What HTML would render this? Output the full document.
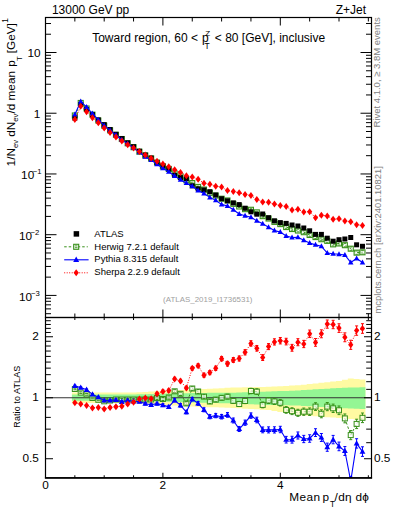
<!DOCTYPE html><html><head><meta charset="utf-8"><style>html,body{margin:0;padding:0;background:#fff;}svg{display:block;}text{font-family:"Liberation Sans",sans-serif;}</style></head><body>
<svg width="393" height="512" viewBox="0 0 393 512">
<rect x="0" y="0" width="393" height="512" fill="#fff"/>
<defs><clipPath id="cm"><rect x="45.5" y="17.5" width="326" height="300"/></clipPath><clipPath id="cr"><rect x="45.5" y="317.5" width="326" height="160.25"/></clipPath></defs>
<g clip-path="url(#cm)">
<polyline fill="none" stroke="#38901a" stroke-width="1" stroke-dasharray="2.5,2" points="74.85,115.48 80.72,102.96 86.59,108.5 92.46,114.67 98.33,120.51 104.2,125.66 110.07,130.32 115.94,134.82 121.81,139.02 127.68,143.32 133.55,147.22 139.42,151.72 145.29,155.52 151.16,158.52 157.03,162.57 162.9,166.37 168.77,168.93 174.64,173.37 180.51,176.42 186.38,180.29 192.25,183.03 198.12,186.93 203.99,189.56 209.86,192.82 215.73,195.55 221.6,198.71 227.47,200.46 233.34,203.84 239.21,206.47 245.08,209.17 250.95,209.78 256.82,212.36 262.69,216.14 268.56,218.52 274.43,221.89 280.3,224.11 286.17,227.04 292.04,229.03 297.91,230.51 303.78,232.18 309.65,234.98 315.52,237.05 321.39,239.21 327.26,240.85 333.13,244.36 339,243.46 344.87,245.19 350.74,248.7 356.61,252.64 362.48,252.31"/>
<rect x="72.35" y="112.98" width="5" height="5" fill="none" stroke="#38901a" stroke-width="1.1"/>
<rect x="78.22" y="100.46" width="5" height="5" fill="none" stroke="#38901a" stroke-width="1.1"/>
<rect x="84.09" y="106" width="5" height="5" fill="none" stroke="#38901a" stroke-width="1.1"/>
<rect x="89.96" y="112.17" width="5" height="5" fill="none" stroke="#38901a" stroke-width="1.1"/>
<rect x="95.83" y="118.01" width="5" height="5" fill="none" stroke="#38901a" stroke-width="1.1"/>
<rect x="101.7" y="123.16" width="5" height="5" fill="none" stroke="#38901a" stroke-width="1.1"/>
<rect x="107.57" y="127.82" width="5" height="5" fill="none" stroke="#38901a" stroke-width="1.1"/>
<rect x="113.44" y="132.32" width="5" height="5" fill="none" stroke="#38901a" stroke-width="1.1"/>
<rect x="119.31" y="136.52" width="5" height="5" fill="none" stroke="#38901a" stroke-width="1.1"/>
<rect x="125.18" y="140.82" width="5" height="5" fill="none" stroke="#38901a" stroke-width="1.1"/>
<rect x="131.05" y="144.72" width="5" height="5" fill="none" stroke="#38901a" stroke-width="1.1"/>
<rect x="136.92" y="149.22" width="5" height="5" fill="none" stroke="#38901a" stroke-width="1.1"/>
<rect x="142.79" y="153.02" width="5" height="5" fill="none" stroke="#38901a" stroke-width="1.1"/>
<rect x="148.66" y="156.02" width="5" height="5" fill="none" stroke="#38901a" stroke-width="1.1"/>
<rect x="154.53" y="160.07" width="5" height="5" fill="none" stroke="#38901a" stroke-width="1.1"/>
<rect x="160.4" y="163.87" width="5" height="5" fill="none" stroke="#38901a" stroke-width="1.1"/>
<rect x="166.27" y="166.43" width="5" height="5" fill="none" stroke="#38901a" stroke-width="1.1"/>
<rect x="172.14" y="170.87" width="5" height="5" fill="none" stroke="#38901a" stroke-width="1.1"/>
<rect x="178.01" y="173.92" width="5" height="5" fill="none" stroke="#38901a" stroke-width="1.1"/>
<rect x="183.88" y="177.79" width="5" height="5" fill="none" stroke="#38901a" stroke-width="1.1"/>
<rect x="189.75" y="180.53" width="5" height="5" fill="none" stroke="#38901a" stroke-width="1.1"/>
<rect x="195.62" y="184.43" width="5" height="5" fill="none" stroke="#38901a" stroke-width="1.1"/>
<rect x="201.49" y="187.06" width="5" height="5" fill="none" stroke="#38901a" stroke-width="1.1"/>
<rect x="207.36" y="190.32" width="5" height="5" fill="none" stroke="#38901a" stroke-width="1.1"/>
<rect x="213.23" y="193.05" width="5" height="5" fill="none" stroke="#38901a" stroke-width="1.1"/>
<rect x="219.1" y="196.21" width="5" height="5" fill="none" stroke="#38901a" stroke-width="1.1"/>
<rect x="224.97" y="197.96" width="5" height="5" fill="none" stroke="#38901a" stroke-width="1.1"/>
<rect x="230.84" y="201.34" width="5" height="5" fill="none" stroke="#38901a" stroke-width="1.1"/>
<rect x="236.71" y="203.97" width="5" height="5" fill="none" stroke="#38901a" stroke-width="1.1"/>
<rect x="242.58" y="206.67" width="5" height="5" fill="none" stroke="#38901a" stroke-width="1.1"/>
<rect x="248.45" y="207.28" width="5" height="5" fill="none" stroke="#38901a" stroke-width="1.1"/>
<rect x="254.32" y="209.86" width="5" height="5" fill="none" stroke="#38901a" stroke-width="1.1"/>
<rect x="260.19" y="213.64" width="5" height="5" fill="none" stroke="#38901a" stroke-width="1.1"/>
<rect x="266.06" y="216.02" width="5" height="5" fill="none" stroke="#38901a" stroke-width="1.1"/>
<rect x="271.93" y="219.39" width="5" height="5" fill="none" stroke="#38901a" stroke-width="1.1"/>
<rect x="277.8" y="221.61" width="5" height="5" fill="none" stroke="#38901a" stroke-width="1.1"/>
<rect x="283.67" y="224.54" width="5" height="5" fill="none" stroke="#38901a" stroke-width="1.1"/>
<rect x="289.54" y="226.53" width="5" height="5" fill="none" stroke="#38901a" stroke-width="1.1"/>
<rect x="295.41" y="228.01" width="5" height="5" fill="none" stroke="#38901a" stroke-width="1.1"/>
<rect x="301.28" y="229.68" width="5" height="5" fill="none" stroke="#38901a" stroke-width="1.1"/>
<rect x="307.15" y="232.48" width="5" height="5" fill="none" stroke="#38901a" stroke-width="1.1"/>
<rect x="313.02" y="234.55" width="5" height="5" fill="none" stroke="#38901a" stroke-width="1.1"/>
<rect x="318.89" y="236.71" width="5" height="5" fill="none" stroke="#38901a" stroke-width="1.1"/>
<rect x="324.76" y="238.35" width="5" height="5" fill="none" stroke="#38901a" stroke-width="1.1"/>
<rect x="330.63" y="241.86" width="5" height="5" fill="none" stroke="#38901a" stroke-width="1.1"/>
<rect x="336.5" y="240.96" width="5" height="5" fill="none" stroke="#38901a" stroke-width="1.1"/>
<rect x="342.37" y="242.69" width="5" height="5" fill="none" stroke="#38901a" stroke-width="1.1"/>
<rect x="348.24" y="246.2" width="5" height="5" fill="none" stroke="#38901a" stroke-width="1.1"/>
<rect x="354.11" y="250.14" width="5" height="5" fill="none" stroke="#38901a" stroke-width="1.1"/>
<rect x="359.98" y="249.81" width="5" height="5" fill="none" stroke="#38901a" stroke-width="1.1"/>
<path d="M73.55 114.98H76.15 M73.55 115.98H76.15" stroke="#38901a" stroke-width="0.9" fill="none"/>
<path d="M79.42 102.45H82.02 M79.42 103.46H82.02" stroke="#38901a" stroke-width="0.9" fill="none"/>
<path d="M85.29 107.99H87.89 M85.29 109.01H87.89" stroke="#38901a" stroke-width="0.9" fill="none"/>
<path d="M91.16 114.16H93.76 M91.16 115.19H93.76" stroke="#38901a" stroke-width="0.9" fill="none"/>
<path d="M97.03 119.99H99.63 M97.03 121.04H99.63" stroke="#38901a" stroke-width="0.9" fill="none"/>
<path d="M102.9 125.13H105.5 M102.9 126.2H105.5" stroke="#38901a" stroke-width="0.9" fill="none"/>
<path d="M108.77 129.77H111.37 M108.77 130.88H111.37" stroke="#38901a" stroke-width="0.9" fill="none"/>
<path d="M114.64 134.26H117.24 M114.64 135.39H117.24" stroke="#38901a" stroke-width="0.9" fill="none"/>
<path d="M120.51 138.45H123.11 M120.51 139.6H123.11" stroke="#38901a" stroke-width="0.9" fill="none"/>
<path d="M126.38 142.73H128.98 M126.38 143.92H128.98" stroke="#38901a" stroke-width="0.9" fill="none"/>
<path d="M132.25 146.61H134.85 M132.25 147.84H134.85" stroke="#38901a" stroke-width="0.9" fill="none"/>
<path d="M138.12 151.1H140.72 M138.12 152.35H140.72" stroke="#38901a" stroke-width="0.9" fill="none"/>
<path d="M143.99 154.88H146.59 M143.99 156.17H146.59" stroke="#38901a" stroke-width="0.9" fill="none"/>
<path d="M149.86 157.86H152.46 M149.86 159.19H152.46" stroke="#38901a" stroke-width="0.9" fill="none"/>
<path d="M155.73 161.89H158.33 M155.73 163.26H158.33" stroke="#38901a" stroke-width="0.9" fill="none"/>
<path d="M161.6 165.67H164.2 M161.6 167.08H164.2" stroke="#38901a" stroke-width="0.9" fill="none"/>
<path d="M167.47 168.2H170.07 M167.47 169.65H170.07" stroke="#38901a" stroke-width="0.9" fill="none"/>
<path d="M173.34 172.62H175.94 M173.34 174.11H175.94" stroke="#38901a" stroke-width="0.9" fill="none"/>
<path d="M179.21 175.65H181.81 M179.21 177.18H181.81" stroke="#38901a" stroke-width="0.9" fill="none"/>
<path d="M185.08 179.5H187.68 M185.08 181.08H187.68" stroke="#38901a" stroke-width="0.9" fill="none"/>
<path d="M190.95 182.21H193.55 M190.95 183.84H193.55" stroke="#38901a" stroke-width="0.9" fill="none"/>
<path d="M196.82 186.09H199.42 M196.82 187.76H199.42" stroke="#38901a" stroke-width="0.9" fill="none"/>
<path d="M202.69 188.69H205.29 M202.69 190.42H205.29" stroke="#38901a" stroke-width="0.9" fill="none"/>
<path d="M208.56 191.94H211.16 M208.56 193.71H211.16" stroke="#38901a" stroke-width="0.9" fill="none"/>
<path d="M214.43 194.64H217.03 M214.43 196.47H217.03" stroke="#38901a" stroke-width="0.9" fill="none"/>
<path d="M220.3 197.78H222.9 M220.3 199.65H222.9" stroke="#38901a" stroke-width="0.9" fill="none"/>
<path d="M226.17 199.49H228.77 M226.17 201.42H228.77" stroke="#38901a" stroke-width="0.9" fill="none"/>
<path d="M232.04 202.85H234.64 M232.04 204.84H234.64" stroke="#38901a" stroke-width="0.9" fill="none"/>
<path d="M237.91 205.46H240.51 M237.91 207.49H240.51" stroke="#38901a" stroke-width="0.9" fill="none"/>
<path d="M243.78 208.13H246.38 M243.78 210.22H246.38" stroke="#38901a" stroke-width="0.9" fill="none"/>
<path d="M249.65 208.7H252.25 M249.65 210.85H252.25" stroke="#38901a" stroke-width="0.9" fill="none"/>
<path d="M255.52 211.25H258.12 M255.52 213.46H258.12" stroke="#38901a" stroke-width="0.9" fill="none"/>
<path d="M261.39 215.01H263.99 M261.39 217.28H263.99" stroke="#38901a" stroke-width="0.9" fill="none"/>
<path d="M267.26 217.36H269.86 M267.26 219.69H269.86" stroke="#38901a" stroke-width="0.9" fill="none"/>
<path d="M273.13 220.7H275.73 M273.13 223.09H275.73" stroke="#38901a" stroke-width="0.9" fill="none"/>
<path d="M279 222.89H281.6 M279 225.34H281.6" stroke="#38901a" stroke-width="0.9" fill="none"/>
<path d="M284.87 225.79H287.47 M284.87 228.3H287.47" stroke="#38901a" stroke-width="0.9" fill="none"/>
<path d="M290.74 227.74H293.34 M290.74 230.32H293.34" stroke="#38901a" stroke-width="0.9" fill="none"/>
<path d="M296.61 229.19H299.21 M296.61 231.83H299.21" stroke="#38901a" stroke-width="0.9" fill="none"/>
<path d="M302.48 230.83H305.08 M302.48 233.53H305.08" stroke="#38901a" stroke-width="0.9" fill="none"/>
<path d="M308.35 233.6H310.95 M308.35 236.37H310.95" stroke="#38901a" stroke-width="0.9" fill="none"/>
<path d="M314.22 235.63H316.82 M314.22 238.47H316.82" stroke="#38901a" stroke-width="0.9" fill="none"/>
<path d="M320.09 237.76H322.69 M320.09 240.66H322.69" stroke="#38901a" stroke-width="0.9" fill="none"/>
<path d="M325.96 239.37H328.56 M325.96 242.34H328.56" stroke="#38901a" stroke-width="0.9" fill="none"/>
<path d="M331.83 242.84H334.43 M331.83 245.88H334.43" stroke="#38901a" stroke-width="0.9" fill="none"/>
<path d="M337.7 241.91H340.3 M337.7 245.02H340.3" stroke="#38901a" stroke-width="0.9" fill="none"/>
<path d="M343.57 243.6H346.17 M343.57 246.78H346.17" stroke="#38901a" stroke-width="0.9" fill="none"/>
<path d="M349.44 247.07H352.04 M349.44 250.32H352.04" stroke="#38901a" stroke-width="0.9" fill="none"/>
<path d="M355.31 250.98H357.91 M355.31 254.3H357.91" stroke="#38901a" stroke-width="0.9" fill="none"/>
<path d="M361.18 250.61H363.78 M361.18 254.01H363.78" stroke="#38901a" stroke-width="0.9" fill="none"/>
<rect x="72.35" y="115.6" width="5" height="5" fill="#000"/>
<rect x="78.22" y="102" width="5" height="5" fill="#000"/>
<rect x="84.09" y="107" width="5" height="5" fill="#000"/>
<rect x="89.96" y="112.1" width="5" height="5" fill="#000"/>
<rect x="95.83" y="117.4" width="5" height="5" fill="#000"/>
<rect x="101.7" y="122.1" width="5" height="5" fill="#000"/>
<rect x="107.57" y="127" width="5" height="5" fill="#000"/>
<rect x="113.44" y="131.8" width="5" height="5" fill="#000"/>
<rect x="119.31" y="136" width="5" height="5" fill="#000"/>
<rect x="125.18" y="140.3" width="5" height="5" fill="#000"/>
<rect x="131.05" y="144.2" width="5" height="5" fill="#000"/>
<rect x="136.92" y="148.7" width="5" height="5" fill="#000"/>
<rect x="142.79" y="152.5" width="5" height="5" fill="#000"/>
<rect x="148.66" y="155.5" width="5" height="5" fill="#000"/>
<rect x="154.53" y="160" width="5" height="5" fill="#000"/>
<rect x="160.4" y="163.5" width="5" height="5" fill="#000"/>
<rect x="166.27" y="166.5" width="5" height="5" fill="#000"/>
<rect x="172.14" y="172.8" width="5" height="5" fill="#000"/>
<rect x="178.01" y="175.1" width="5" height="5" fill="#000"/>
<rect x="183.88" y="176.1" width="5" height="5" fill="#000"/>
<rect x="189.75" y="183.3" width="5" height="5" fill="#000"/>
<rect x="195.62" y="186.3" width="5" height="5" fill="#000"/>
<rect x="201.49" y="187.4" width="5" height="5" fill="#000"/>
<rect x="207.36" y="189.2" width="5" height="5" fill="#000"/>
<rect x="213.23" y="192.5" width="5" height="5" fill="#000"/>
<rect x="219.1" y="196.2" width="5" height="5" fill="#000"/>
<rect x="224.97" y="198.3" width="5" height="5" fill="#000"/>
<rect x="230.84" y="200.4" width="5" height="5" fill="#000"/>
<rect x="236.71" y="202.1" width="5" height="5" fill="#000"/>
<rect x="242.58" y="205.7" width="5" height="5" fill="#000"/>
<rect x="248.45" y="209.3" width="5" height="5" fill="#000"/>
<rect x="254.32" y="211.7" width="5" height="5" fill="#000"/>
<rect x="260.19" y="211.5" width="5" height="5" fill="#000"/>
<rect x="266.06" y="215.2" width="5" height="5" fill="#000"/>
<rect x="271.93" y="218.3" width="5" height="5" fill="#000"/>
<rect x="277.8" y="220.1" width="5" height="5" fill="#000"/>
<rect x="283.67" y="220.9" width="5" height="5" fill="#000"/>
<rect x="289.54" y="222.5" width="5" height="5" fill="#000"/>
<rect x="295.41" y="223.5" width="5" height="5" fill="#000"/>
<rect x="301.28" y="225.5" width="5" height="5" fill="#000"/>
<rect x="307.15" y="228.3" width="5" height="5" fill="#000"/>
<rect x="313.02" y="231.9" width="5" height="5" fill="#000"/>
<rect x="318.89" y="231.9" width="5" height="5" fill="#000"/>
<rect x="324.76" y="235.7" width="5" height="5" fill="#000"/>
<rect x="330.63" y="238.7" width="5" height="5" fill="#000"/>
<rect x="336.5" y="237.2" width="5" height="5" fill="#000"/>
<rect x="342.37" y="236.5" width="5" height="5" fill="#000"/>
<rect x="348.24" y="235" width="5" height="5" fill="#000"/>
<rect x="354.11" y="242.3" width="5" height="5" fill="#000"/>
<rect x="359.98" y="243.8" width="5" height="5" fill="#000"/>
<polyline fill="none" stroke="#0000ff" stroke-width="1.1" points="74.85,114.58 80.72,101.46 86.59,107.12 92.46,113.6 98.33,119.74 104.2,125.42 110.07,130.29 115.94,134.97 121.81,139.71 127.68,143.59 133.55,147.76 139.42,152.35 145.29,156.78 151.16,160.11 157.03,164.25 162.9,168.2 168.77,171.74 174.64,176.06 180.51,179.86 186.38,182.9 192.25,186.23 198.12,190.49 203.99,193.51 209.86,197.38 215.73,200.35 221.6,204.38 227.47,205.94 233.34,209.72 239.21,213.97 245.08,215.68 250.95,217.15 256.82,220.87 262.69,223.64 268.56,227.34 274.43,230.44 280.3,232.12 286.17,235.97 292.04,237.57 297.91,237.32 303.78,240.36 309.65,243.01 315.52,244.85 321.39,246.32 327.26,253.02 333.13,253.74 339,254.28 344.87,254.96 350.74,262.45 356.61,258.48 362.48,262.44"/>
<path d="M74.85 111.58L77.6 116.58L72.1 116.58Z" fill="#0000ff"/>
<path d="M80.72 98.46L83.47 103.46L77.97 103.46Z" fill="#0000ff"/>
<path d="M86.59 104.12L89.34 109.12L83.84 109.12Z" fill="#0000ff"/>
<path d="M92.46 110.6L95.21 115.6L89.71 115.6Z" fill="#0000ff"/>
<path d="M98.33 116.74L101.08 121.74L95.58 121.74Z" fill="#0000ff"/>
<path d="M104.2 122.42L106.95 127.42L101.45 127.42Z" fill="#0000ff"/>
<path d="M110.07 127.29L112.82 132.29L107.32 132.29Z" fill="#0000ff"/>
<path d="M115.94 131.97L118.69 136.97L113.19 136.97Z" fill="#0000ff"/>
<path d="M121.81 136.71L124.56 141.71L119.06 141.71Z" fill="#0000ff"/>
<path d="M127.68 140.59L130.43 145.59L124.93 145.59Z" fill="#0000ff"/>
<path d="M133.55 144.76L136.3 149.76L130.8 149.76Z" fill="#0000ff"/>
<path d="M139.42 149.35L142.17 154.35L136.67 154.35Z" fill="#0000ff"/>
<path d="M145.29 153.78L148.04 158.78L142.54 158.78Z" fill="#0000ff"/>
<path d="M151.16 157.11L153.91 162.11L148.41 162.11Z" fill="#0000ff"/>
<path d="M157.03 161.25L159.78 166.25L154.28 166.25Z" fill="#0000ff"/>
<path d="M162.9 165.2L165.65 170.2L160.15 170.2Z" fill="#0000ff"/>
<path d="M168.77 168.74L171.52 173.74L166.02 173.74Z" fill="#0000ff"/>
<path d="M174.64 173.06L177.39 178.06L171.89 178.06Z" fill="#0000ff"/>
<path d="M180.51 176.86L183.26 181.86L177.76 181.86Z" fill="#0000ff"/>
<path d="M186.38 179.9L189.13 184.9L183.63 184.9Z" fill="#0000ff"/>
<path d="M192.25 183.23L195 188.23L189.5 188.23Z" fill="#0000ff"/>
<path d="M198.12 187.49L200.87 192.49L195.37 192.49Z" fill="#0000ff"/>
<path d="M203.99 190.51L206.74 195.51L201.24 195.51Z" fill="#0000ff"/>
<path d="M209.86 194.38L212.61 199.38L207.11 199.38Z" fill="#0000ff"/>
<path d="M215.73 197.35L218.48 202.35L212.98 202.35Z" fill="#0000ff"/>
<path d="M221.6 201.38L224.35 206.38L218.85 206.38Z" fill="#0000ff"/>
<path d="M227.47 202.94L230.22 207.94L224.72 207.94Z" fill="#0000ff"/>
<path d="M233.34 206.72L236.09 211.72L230.59 211.72Z" fill="#0000ff"/>
<path d="M239.21 210.97L241.96 215.97L236.46 215.97Z" fill="#0000ff"/>
<path d="M245.08 212.68L247.83 217.68L242.33 217.68Z" fill="#0000ff"/>
<path d="M250.95 214.15L253.7 219.15L248.2 219.15Z" fill="#0000ff"/>
<path d="M256.82 217.87L259.57 222.87L254.07 222.87Z" fill="#0000ff"/>
<path d="M262.69 220.64L265.44 225.64L259.94 225.64Z" fill="#0000ff"/>
<path d="M268.56 224.34L271.31 229.34L265.81 229.34Z" fill="#0000ff"/>
<path d="M274.43 227.44L277.18 232.44L271.68 232.44Z" fill="#0000ff"/>
<path d="M280.3 229.12L283.05 234.12L277.55 234.12Z" fill="#0000ff"/>
<path d="M286.17 232.97L288.92 237.97L283.42 237.97Z" fill="#0000ff"/>
<path d="M292.04 234.57L294.79 239.57L289.29 239.57Z" fill="#0000ff"/>
<path d="M297.91 234.32L300.66 239.32L295.16 239.32Z" fill="#0000ff"/>
<path d="M303.78 237.36L306.53 242.36L301.03 242.36Z" fill="#0000ff"/>
<path d="M309.65 240.01L312.4 245.01L306.9 245.01Z" fill="#0000ff"/>
<path d="M315.52 241.85L318.27 246.85L312.77 246.85Z" fill="#0000ff"/>
<path d="M321.39 243.32L324.14 248.32L318.64 248.32Z" fill="#0000ff"/>
<path d="M327.26 250.02L330.01 255.02L324.51 255.02Z" fill="#0000ff"/>
<path d="M333.13 250.74L335.88 255.74L330.38 255.74Z" fill="#0000ff"/>
<path d="M339 251.28L341.75 256.28L336.25 256.28Z" fill="#0000ff"/>
<path d="M344.87 251.96L347.62 256.96L342.12 256.96Z" fill="#0000ff"/>
<path d="M350.74 259.45L353.49 264.45L347.99 264.45Z" fill="#0000ff"/>
<path d="M356.61 255.48L359.36 260.48L353.86 260.48Z" fill="#0000ff"/>
<path d="M362.48 259.44L365.23 264.44L359.73 264.44Z" fill="#0000ff"/>
<polyline fill="none" stroke="#ff0000" stroke-width="1" stroke-dasharray="1,1.5" points="74.85,119.61 80.72,106.34 86.59,111.79 92.46,117.64 98.33,122.79 104.2,127.94 110.07,132.39 115.94,136.98 121.81,141.03 127.68,144.67 133.55,148.03 139.42,151.6 145.29,155.04 151.16,158.28 157.03,161.29 162.9,164.1 168.77,166.86 174.64,169.65 180.51,172.58 186.38,175.65 192.25,176.97 198.12,179.19 203.99,183.14 209.86,184.16 215.73,186.17 221.6,186.99 227.47,190.59 233.34,191.58 239.21,192.83 245.08,194.58 250.95,195.51 256.82,199.38 262.69,201.96 268.56,202.37 274.43,204.06 280.3,205.5 286.17,206.57 292.04,210.03 297.91,209.35 303.78,211.89 309.65,211.63 315.52,217.81 321.39,215.23 327.26,216.12 333.13,219.24 339,218.82 344.87,220.88 350.74,221.63 356.61,224.67 362.48,225.54"/>
<path d="M74.85 116.11L77.45 119.61L74.85 123.11L72.25 119.61Z" fill="#ff0000"/>
<path d="M80.72 102.84L83.32 106.34L80.72 109.84L78.12 106.34Z" fill="#ff0000"/>
<path d="M86.59 108.29L89.19 111.79L86.59 115.29L83.99 111.79Z" fill="#ff0000"/>
<path d="M92.46 114.14L95.06 117.64L92.46 121.14L89.86 117.64Z" fill="#ff0000"/>
<path d="M98.33 119.29L100.93 122.79L98.33 126.29L95.73 122.79Z" fill="#ff0000"/>
<path d="M104.2 124.44L106.8 127.94L104.2 131.44L101.6 127.94Z" fill="#ff0000"/>
<path d="M110.07 128.89L112.67 132.39L110.07 135.89L107.47 132.39Z" fill="#ff0000"/>
<path d="M115.94 133.48L118.54 136.98L115.94 140.48L113.34 136.98Z" fill="#ff0000"/>
<path d="M121.81 137.53L124.41 141.03L121.81 144.53L119.21 141.03Z" fill="#ff0000"/>
<path d="M127.68 141.17L130.28 144.67L127.68 148.17L125.08 144.67Z" fill="#ff0000"/>
<path d="M133.55 144.53L136.15 148.03L133.55 151.53L130.95 148.03Z" fill="#ff0000"/>
<path d="M139.42 148.1L142.02 151.6L139.42 155.1L136.82 151.6Z" fill="#ff0000"/>
<path d="M145.29 151.54L147.89 155.04L145.29 158.54L142.69 155.04Z" fill="#ff0000"/>
<path d="M151.16 154.78L153.76 158.28L151.16 161.78L148.56 158.28Z" fill="#ff0000"/>
<path d="M157.03 157.79L159.63 161.29L157.03 164.79L154.43 161.29Z" fill="#ff0000"/>
<path d="M162.9 160.6L165.5 164.1L162.9 167.6L160.3 164.1Z" fill="#ff0000"/>
<path d="M168.77 163.36L171.37 166.86L168.77 170.36L166.17 166.86Z" fill="#ff0000"/>
<path d="M174.64 166.15L177.24 169.65L174.64 173.15L172.04 169.65Z" fill="#ff0000"/>
<path d="M180.51 169.08L183.11 172.58L180.51 176.08L177.91 172.58Z" fill="#ff0000"/>
<path d="M186.38 172.15L188.98 175.65L186.38 179.15L183.78 175.65Z" fill="#ff0000"/>
<path d="M192.25 173.47L194.85 176.97L192.25 180.47L189.65 176.97Z" fill="#ff0000"/>
<path d="M198.12 175.69L200.72 179.19L198.12 182.69L195.52 179.19Z" fill="#ff0000"/>
<path d="M203.99 179.64L206.59 183.14L203.99 186.64L201.39 183.14Z" fill="#ff0000"/>
<path d="M209.86 180.66L212.46 184.16L209.86 187.66L207.26 184.16Z" fill="#ff0000"/>
<path d="M215.73 182.67L218.33 186.17L215.73 189.67L213.13 186.17Z" fill="#ff0000"/>
<path d="M221.6 183.49L224.2 186.99L221.6 190.49L219 186.99Z" fill="#ff0000"/>
<path d="M227.47 187.09L230.07 190.59L227.47 194.09L224.87 190.59Z" fill="#ff0000"/>
<path d="M233.34 188.08L235.94 191.58L233.34 195.08L230.74 191.58Z" fill="#ff0000"/>
<path d="M239.21 189.33L241.81 192.83L239.21 196.33L236.61 192.83Z" fill="#ff0000"/>
<path d="M245.08 191.08L247.68 194.58L245.08 198.08L242.48 194.58Z" fill="#ff0000"/>
<path d="M250.95 192.01L253.55 195.51L250.95 199.01L248.35 195.51Z" fill="#ff0000"/>
<path d="M256.82 195.88L259.42 199.38L256.82 202.88L254.22 199.38Z" fill="#ff0000"/>
<path d="M262.69 198.46L265.29 201.96L262.69 205.46L260.09 201.96Z" fill="#ff0000"/>
<path d="M268.56 198.87L271.16 202.37L268.56 205.87L265.96 202.37Z" fill="#ff0000"/>
<path d="M274.43 200.56L277.03 204.06L274.43 207.56L271.83 204.06Z" fill="#ff0000"/>
<path d="M280.3 202L282.9 205.5L280.3 209L277.7 205.5Z" fill="#ff0000"/>
<path d="M286.17 203.07L288.77 206.57L286.17 210.07L283.57 206.57Z" fill="#ff0000"/>
<path d="M292.04 206.53L294.64 210.03L292.04 213.53L289.44 210.03Z" fill="#ff0000"/>
<path d="M297.91 205.85L300.51 209.35L297.91 212.85L295.31 209.35Z" fill="#ff0000"/>
<path d="M303.78 208.39L306.38 211.89L303.78 215.39L301.18 211.89Z" fill="#ff0000"/>
<path d="M309.65 208.13L312.25 211.63L309.65 215.13L307.05 211.63Z" fill="#ff0000"/>
<path d="M315.52 214.31L318.12 217.81L315.52 221.31L312.92 217.81Z" fill="#ff0000"/>
<path d="M321.39 211.73L323.99 215.23L321.39 218.73L318.79 215.23Z" fill="#ff0000"/>
<path d="M327.26 212.62L329.86 216.12L327.26 219.62L324.66 216.12Z" fill="#ff0000"/>
<path d="M333.13 215.74L335.73 219.24L333.13 222.74L330.53 219.24Z" fill="#ff0000"/>
<path d="M339 215.32L341.6 218.82L339 222.32L336.4 218.82Z" fill="#ff0000"/>
<path d="M344.87 217.38L347.47 220.88L344.87 224.38L342.27 220.88Z" fill="#ff0000"/>
<path d="M350.74 218.13L353.34 221.63L350.74 225.13L348.14 221.63Z" fill="#ff0000"/>
<path d="M356.61 221.17L359.21 224.67L356.61 228.17L354.01 224.67Z" fill="#ff0000"/>
<path d="M362.48 222.04L365.08 225.54L362.48 229.04L359.88 225.54Z" fill="#ff0000"/>
</g>
<g clip-path="url(#cr)">
<path d="M71.91 392.5 L77.78 392.5 L77.78 392.5 L83.66 392.5 L83.66 392.5 L89.53 392.5 L89.53 392.5 L95.4 392.5 L95.4 392.5 L101.27 392.5 L101.27 392.5 L107.14 392.5 L107.14 392.5 L113.01 392.5 L113.01 392.5 L118.88 392.5 L118.88 392.5 L124.75 392.5 L124.74 392.5 L130.61 392.5 L130.62 392.5 L136.49 392.5 L136.49 392.2 L142.36 392.2 L142.36 391.9 L148.23 391.9 L148.23 391.6 L154.1 391.6 L154.1 391.3 L159.97 391.3 L159.97 391 L165.84 391 L165.84 390.7 L171.71 390.7 L171.71 390.4 L177.58 390.4 L177.57 390.1 L183.44 390.1 L183.45 389.8 L189.32 389.8 L189.31 389.5 L195.19 389.5 L195.19 389.23 L201.06 389.23 L201.06 388.96 L206.93 388.96 L206.93 388.69 L212.8 388.69 L212.8 388.41 L218.67 388.41 L218.67 388.14 L224.54 388.14 L224.54 387.87 L230.41 387.87 L230.41 387.6 L236.28 387.6 L236.28 387.47 L242.15 387.47 L242.15 387.33 L248.02 387.33 L248.02 387.2 L253.89 387.2 L253.89 387.07 L259.76 387.07 L259.76 386.93 L265.63 386.93 L265.63 386.8 L271.5 386.8 L271.5 386.5 L277.37 386.5 L277.37 386.2 L283.24 386.2 L283.23 385.9 L289.1 385.9 L289.11 385.6 L294.98 385.6 L294.98 385.3 L300.85 385.3 L300.85 384.69 L306.72 384.69 L306.72 384.07 L312.59 384.07 L312.59 383.46 L318.46 383.46 L318.46 382.84 L324.33 382.84 L324.32 382.23 L330.19 382.23 L330.2 381.61 L336.07 381.61 L336.06 381 L341.94 381 L341.94 379.7 L347.81 379.7 L347.81 378.4 L353.68 378.4 L353.68 378.9 L359.55 378.9 L359.55 379.4 L365.42 379.4 L365.42 420 L359.55 420 L359.55 419.5 L353.68 419.5 L353.68 419 L347.81 419 L347.81 418.5 L341.94 418.5 L341.94 418 L336.06 418 L336.07 417.57 L330.2 417.57 L330.19 417.14 L324.32 417.14 L324.33 416.71 L318.46 416.71 L318.46 416.29 L312.59 416.29 L312.59 415.86 L306.72 415.86 L306.72 415.43 L300.85 415.43 L300.85 415 L294.98 415 L294.98 414 L289.11 414 L289.1 413 L283.23 413 L283.24 412 L277.37 412 L277.37 411 L271.5 411 L271.5 410 L265.63 410 L265.63 409.67 L259.76 409.67 L259.76 409.33 L253.89 409.33 L253.89 409 L248.02 409 L248.02 408.67 L242.15 408.67 L242.15 408.33 L236.28 408.33 L236.28 408 L230.41 408 L230.41 407.79 L224.54 407.79 L224.54 407.57 L218.67 407.57 L218.67 407.36 L212.8 407.36 L212.8 407.14 L206.93 407.14 L206.93 406.93 L201.06 406.93 L201.06 406.71 L195.19 406.71 L195.19 406.5 L189.31 406.5 L189.32 406.15 L183.45 406.15 L183.44 405.8 L177.57 405.8 L177.58 405.45 L171.71 405.45 L171.71 405.1 L165.84 405.1 L165.84 404.75 L159.97 404.75 L159.97 404.4 L154.1 404.4 L154.1 404.05 L148.23 404.05 L148.23 403.7 L142.36 403.7 L142.36 403.35 L136.49 403.35 L136.49 403 L130.62 403 L130.61 403 L124.74 403 L124.75 403 L118.88 403 L118.88 403 L113.01 403 L113.01 403 L107.14 403 L107.14 403 L101.27 403 L101.27 403 L95.4 403 L95.4 403 L89.53 403 L89.53 403 L83.66 403 L83.66 403 L77.78 403 L77.78 403 L71.91 403Z" fill="#fffaa2"/>
<path d="M71.91 394.5 L77.78 394.5 L77.78 394.5 L83.66 394.5 L83.66 394.5 L89.53 394.5 L89.53 394.5 L95.4 394.5 L95.4 394.5 L101.27 394.5 L101.27 394.5 L107.14 394.5 L107.14 394.5 L113.01 394.5 L113.01 394.5 L118.88 394.5 L118.88 394.5 L124.75 394.5 L124.74 394.5 L130.61 394.5 L130.62 394.5 L136.49 394.5 L136.49 394.35 L142.36 394.35 L142.36 394.2 L148.23 394.2 L148.23 394.05 L154.1 394.05 L154.1 393.9 L159.97 393.9 L159.97 393.75 L165.84 393.75 L165.84 393.6 L171.71 393.6 L171.71 393.45 L177.58 393.45 L177.57 393.3 L183.44 393.3 L183.45 393.15 L189.32 393.15 L189.31 393 L195.19 393 L195.19 392.96 L201.06 392.96 L201.06 392.91 L206.93 392.91 L206.93 392.87 L212.8 392.87 L212.8 392.83 L218.67 392.83 L218.67 392.79 L224.54 392.79 L224.54 392.74 L230.41 392.74 L230.41 392.7 L236.28 392.7 L236.28 392.52 L242.15 392.52 L242.15 392.33 L248.02 392.33 L248.02 392.15 L253.89 392.15 L253.89 391.97 L259.76 391.97 L259.76 391.78 L265.63 391.78 L265.63 391.6 L271.5 391.6 L271.5 391.36 L277.37 391.36 L277.37 391.12 L283.24 391.12 L283.23 390.88 L289.1 390.88 L289.11 390.64 L294.98 390.64 L294.98 390.4 L300.85 390.4 L300.85 390.06 L306.72 390.06 L306.72 389.71 L312.59 389.71 L312.59 389.37 L318.46 389.37 L318.46 389.03 L324.33 389.03 L324.32 388.69 L330.19 388.69 L330.2 388.34 L336.07 388.34 L336.06 388 L341.94 388 L341.94 387.8 L347.81 387.8 L347.81 387.6 L353.68 387.6 L353.68 387.4 L359.55 387.4 L359.55 387.2 L365.42 387.2 L365.42 409 L359.55 409 L359.55 408.75 L353.68 408.75 L353.68 408.5 L347.81 408.5 L347.81 408.25 L341.94 408.25 L341.94 408 L336.06 408 L336.07 407.66 L330.2 407.66 L330.19 407.31 L324.32 407.31 L324.33 406.97 L318.46 406.97 L318.46 406.63 L312.59 406.63 L312.59 406.29 L306.72 406.29 L306.72 405.94 L300.85 405.94 L300.85 405.6 L294.98 405.6 L294.98 405.48 L289.11 405.48 L289.1 405.36 L283.23 405.36 L283.24 405.24 L277.37 405.24 L277.37 405.12 L271.5 405.12 L271.5 405 L265.63 405 L265.63 404.73 L259.76 404.73 L259.76 404.47 L253.89 404.47 L253.89 404.2 L248.02 404.2 L248.02 403.93 L242.15 403.93 L242.15 403.67 L236.28 403.67 L236.28 403.4 L230.41 403.4 L230.41 403.27 L224.54 403.27 L224.54 403.14 L218.67 403.14 L218.67 403.01 L212.8 403.01 L212.8 402.89 L206.93 402.89 L206.93 402.76 L201.06 402.76 L201.06 402.63 L195.19 402.63 L195.19 402.5 L189.31 402.5 L189.32 402.33 L183.45 402.33 L183.44 402.16 L177.57 402.16 L177.58 401.99 L171.71 401.99 L171.71 401.82 L165.84 401.82 L165.84 401.65 L159.97 401.65 L159.97 401.48 L154.1 401.48 L154.1 401.31 L148.23 401.31 L148.23 401.14 L142.36 401.14 L142.36 400.97 L136.49 400.97 L136.49 400.8 L130.62 400.8 L130.61 400.8 L124.74 400.8 L124.75 400.8 L118.88 400.8 L118.88 400.8 L113.01 400.8 L113.01 400.8 L107.14 400.8 L107.14 400.8 L101.27 400.8 L101.27 400.8 L95.4 400.8 L95.4 400.8 L89.53 400.8 L89.53 400.8 L83.66 400.8 L83.66 400.8 L77.78 400.8 L77.78 400.8 L71.91 400.8Z" fill="#94f694"/>
<line x1="45.5" y1="397.75" x2="371.5" y2="397.75" stroke="#333" stroke-width="1.1"/>
<polyline fill="none" stroke="#38901a" stroke-width="1" stroke-dasharray="2.5,2" points="74.85,389 80.72,392.6 86.59,394.4 92.46,398 98.33,399.8 104.2,401.3 110.07,400.5 115.94,399.5 121.81,399.5 127.68,399.5 133.55,399.5 139.42,399.5 145.29,399.5 151.16,399.5 157.03,398 162.9,399 168.77,397.5 174.64,391.3 180.51,393.8 186.38,403.4 192.25,388.5 198.12,391.5 203.99,396.6 209.86,401.5 215.73,399.6 221.6,397.8 227.47,396.6 233.34,400.9 239.21,404 245.08,401 250.95,391 256.82,391.6 262.69,404.9 268.56,400.5 274.43,401.4 280.3,402.8 286.17,409.9 292.04,411.2 297.91,412.8 303.78,411.7 309.65,411.7 315.52,406.6 321.39,413.8 327.26,406.6 333.13,408.3 339,410.3 344.87,418.4 350.74,435.1 356.61,423.9 362.48,417.8"/>
<rect x="72.35" y="386.5" width="5" height="5" fill="#fff" fill-opacity="0.6" stroke="#38901a" stroke-width="1.0"/>
<rect x="78.22" y="390.1" width="5" height="5" fill="#fff" fill-opacity="0.6" stroke="#38901a" stroke-width="1.0"/>
<rect x="84.09" y="391.9" width="5" height="5" fill="#fff" fill-opacity="0.6" stroke="#38901a" stroke-width="1.0"/>
<rect x="89.96" y="395.5" width="5" height="5" fill="#fff" fill-opacity="0.6" stroke="#38901a" stroke-width="1.0"/>
<rect x="95.83" y="397.3" width="5" height="5" fill="#fff" fill-opacity="0.6" stroke="#38901a" stroke-width="1.0"/>
<rect x="101.7" y="398.8" width="5" height="5" fill="#fff" fill-opacity="0.6" stroke="#38901a" stroke-width="1.0"/>
<rect x="107.57" y="398" width="5" height="5" fill="#fff" fill-opacity="0.6" stroke="#38901a" stroke-width="1.0"/>
<rect x="113.44" y="397" width="5" height="5" fill="#fff" fill-opacity="0.6" stroke="#38901a" stroke-width="1.0"/>
<rect x="119.31" y="397" width="5" height="5" fill="#fff" fill-opacity="0.6" stroke="#38901a" stroke-width="1.0"/>
<rect x="125.18" y="397" width="5" height="5" fill="#fff" fill-opacity="0.6" stroke="#38901a" stroke-width="1.0"/>
<rect x="131.05" y="397" width="5" height="5" fill="#fff" fill-opacity="0.6" stroke="#38901a" stroke-width="1.0"/>
<rect x="136.92" y="397" width="5" height="5" fill="#fff" fill-opacity="0.6" stroke="#38901a" stroke-width="1.0"/>
<rect x="142.79" y="397" width="5" height="5" fill="#fff" fill-opacity="0.6" stroke="#38901a" stroke-width="1.0"/>
<rect x="148.66" y="397" width="5" height="5" fill="#fff" fill-opacity="0.6" stroke="#38901a" stroke-width="1.0"/>
<rect x="154.53" y="395.5" width="5" height="5" fill="#fff" fill-opacity="0.6" stroke="#38901a" stroke-width="1.0"/>
<rect x="160.4" y="396.5" width="5" height="5" fill="#fff" fill-opacity="0.6" stroke="#38901a" stroke-width="1.0"/>
<rect x="166.27" y="395" width="5" height="5" fill="#fff" fill-opacity="0.6" stroke="#38901a" stroke-width="1.0"/>
<rect x="172.14" y="388.8" width="5" height="5" fill="#fff" fill-opacity="0.6" stroke="#38901a" stroke-width="1.0"/>
<rect x="178.01" y="391.3" width="5" height="5" fill="#fff" fill-opacity="0.6" stroke="#38901a" stroke-width="1.0"/>
<rect x="183.88" y="400.9" width="5" height="5" fill="#fff" fill-opacity="0.6" stroke="#38901a" stroke-width="1.0"/>
<rect x="189.75" y="386" width="5" height="5" fill="#fff" fill-opacity="0.6" stroke="#38901a" stroke-width="1.0"/>
<rect x="195.62" y="389" width="5" height="5" fill="#fff" fill-opacity="0.6" stroke="#38901a" stroke-width="1.0"/>
<rect x="201.49" y="394.1" width="5" height="5" fill="#fff" fill-opacity="0.6" stroke="#38901a" stroke-width="1.0"/>
<rect x="207.36" y="399" width="5" height="5" fill="#fff" fill-opacity="0.6" stroke="#38901a" stroke-width="1.0"/>
<rect x="213.23" y="397.1" width="5" height="5" fill="#fff" fill-opacity="0.6" stroke="#38901a" stroke-width="1.0"/>
<rect x="219.1" y="395.3" width="5" height="5" fill="#fff" fill-opacity="0.6" stroke="#38901a" stroke-width="1.0"/>
<rect x="224.97" y="394.1" width="5" height="5" fill="#fff" fill-opacity="0.6" stroke="#38901a" stroke-width="1.0"/>
<rect x="230.84" y="398.4" width="5" height="5" fill="#fff" fill-opacity="0.6" stroke="#38901a" stroke-width="1.0"/>
<rect x="236.71" y="401.5" width="5" height="5" fill="#fff" fill-opacity="0.6" stroke="#38901a" stroke-width="1.0"/>
<rect x="242.58" y="398.5" width="5" height="5" fill="#fff" fill-opacity="0.6" stroke="#38901a" stroke-width="1.0"/>
<rect x="248.45" y="388.5" width="5" height="5" fill="#fff" fill-opacity="0.6" stroke="#38901a" stroke-width="1.0"/>
<rect x="254.32" y="389.1" width="5" height="5" fill="#fff" fill-opacity="0.6" stroke="#38901a" stroke-width="1.0"/>
<rect x="260.19" y="402.4" width="5" height="5" fill="#fff" fill-opacity="0.6" stroke="#38901a" stroke-width="1.0"/>
<rect x="266.06" y="398" width="5" height="5" fill="#fff" fill-opacity="0.6" stroke="#38901a" stroke-width="1.0"/>
<rect x="271.93" y="398.9" width="5" height="5" fill="#fff" fill-opacity="0.6" stroke="#38901a" stroke-width="1.0"/>
<rect x="277.8" y="400.3" width="5" height="5" fill="#fff" fill-opacity="0.6" stroke="#38901a" stroke-width="1.0"/>
<rect x="283.67" y="407.4" width="5" height="5" fill="#fff" fill-opacity="0.6" stroke="#38901a" stroke-width="1.0"/>
<rect x="289.54" y="408.7" width="5" height="5" fill="#fff" fill-opacity="0.6" stroke="#38901a" stroke-width="1.0"/>
<rect x="295.41" y="410.3" width="5" height="5" fill="#fff" fill-opacity="0.6" stroke="#38901a" stroke-width="1.0"/>
<rect x="301.28" y="409.2" width="5" height="5" fill="#fff" fill-opacity="0.6" stroke="#38901a" stroke-width="1.0"/>
<rect x="307.15" y="409.2" width="5" height="5" fill="#fff" fill-opacity="0.6" stroke="#38901a" stroke-width="1.0"/>
<rect x="313.02" y="404.1" width="5" height="5" fill="#fff" fill-opacity="0.6" stroke="#38901a" stroke-width="1.0"/>
<rect x="318.89" y="411.3" width="5" height="5" fill="#fff" fill-opacity="0.6" stroke="#38901a" stroke-width="1.0"/>
<rect x="324.76" y="404.1" width="5" height="5" fill="#fff" fill-opacity="0.6" stroke="#38901a" stroke-width="1.0"/>
<rect x="330.63" y="405.8" width="5" height="5" fill="#fff" fill-opacity="0.6" stroke="#38901a" stroke-width="1.0"/>
<rect x="336.5" y="407.8" width="5" height="5" fill="#fff" fill-opacity="0.6" stroke="#38901a" stroke-width="1.0"/>
<rect x="342.37" y="415.9" width="5" height="5" fill="#fff" fill-opacity="0.6" stroke="#38901a" stroke-width="1.0"/>
<rect x="348.24" y="432.6" width="5" height="5" fill="#fff" fill-opacity="0.6" stroke="#38901a" stroke-width="1.0"/>
<rect x="354.11" y="421.4" width="5" height="5" fill="#fff" fill-opacity="0.6" stroke="#38901a" stroke-width="1.0"/>
<rect x="359.98" y="415.3" width="5" height="5" fill="#fff" fill-opacity="0.6" stroke="#38901a" stroke-width="1.0"/>
<path d="M73.35 388.2H76.35 M73.35 389.8H76.35" stroke="#38901a" stroke-width="1" fill="none"/>
<path d="M79.22 391.79H82.22 M79.22 393.41H82.22" stroke="#38901a" stroke-width="1" fill="none"/>
<path d="M85.09 393.57H88.09 M85.09 395.23H88.09" stroke="#38901a" stroke-width="1" fill="none"/>
<path d="M90.96 397.14H93.96 M90.96 398.86H93.96" stroke="#38901a" stroke-width="1" fill="none"/>
<path d="M96.83 398.91H99.83 M96.83 400.69H99.83" stroke="#38901a" stroke-width="1" fill="none"/>
<path d="M102.7 400.37H105.7 M102.7 402.23H105.7" stroke="#38901a" stroke-width="1" fill="none"/>
<path d="M108.57 399.53H111.57 M108.57 401.47H111.57" stroke="#38901a" stroke-width="1" fill="none"/>
<path d="M114.44 398.48H117.44 M114.44 400.52H117.44" stroke="#38901a" stroke-width="1" fill="none"/>
<path d="M120.31 398.44H123.31 M120.31 400.56H123.31" stroke="#38901a" stroke-width="1" fill="none"/>
<path d="M126.18 398.39H129.18 M126.18 400.61H129.18" stroke="#38901a" stroke-width="1" fill="none"/>
<path d="M132.05 398.33H135.05 M132.05 400.67H135.05" stroke="#38901a" stroke-width="1" fill="none"/>
<path d="M137.92 398.27H140.92 M137.92 400.73H140.92" stroke="#38901a" stroke-width="1" fill="none"/>
<path d="M143.79 398.22H146.79 M143.79 400.78H146.79" stroke="#38901a" stroke-width="1" fill="none"/>
<path d="M149.66 398.15H152.66 M149.66 400.85H152.66" stroke="#38901a" stroke-width="1" fill="none"/>
<path d="M155.53 396.59H158.53 M155.53 399.41H158.53" stroke="#38901a" stroke-width="1" fill="none"/>
<path d="M161.4 397.52H164.4 M161.4 400.48H164.4" stroke="#38901a" stroke-width="1" fill="none"/>
<path d="M167.27 395.95H170.27 M167.27 399.05H170.27" stroke="#38901a" stroke-width="1" fill="none"/>
<path d="M173.14 389.68H176.14 M173.14 392.92H176.14" stroke="#38901a" stroke-width="1" fill="none"/>
<path d="M179.01 392.11H182.01 M179.01 395.49H182.01" stroke="#38901a" stroke-width="1" fill="none"/>
<path d="M184.88 401.63H187.88 M184.88 405.17H187.88" stroke="#38901a" stroke-width="1" fill="none"/>
<path d="M190.75 386.66H193.75 M190.75 390.34H193.75" stroke="#38901a" stroke-width="1" fill="none"/>
<path d="M196.62 389.58H199.62 M196.62 393.42H199.62" stroke="#38901a" stroke-width="1" fill="none"/>
<path d="M202.49 394.6H205.49 M202.49 398.6H205.49" stroke="#38901a" stroke-width="1" fill="none"/>
<path d="M208.36 399.41H211.36 M208.36 403.59H211.36" stroke="#38901a" stroke-width="1" fill="none"/>
<path d="M214.23 397.43H217.23 M214.23 401.77H217.23" stroke="#38901a" stroke-width="1" fill="none"/>
<path d="M220.1 395.54H223.1 M220.1 400.06H223.1" stroke="#38901a" stroke-width="1" fill="none"/>
<path d="M225.97 394.25H228.97 M225.97 398.95H228.97 M227.47 394.25V394.3 M227.47 398.9V398.95" stroke="#38901a" stroke-width="1" fill="none"/>
<path d="M231.84 398.46H234.84 M231.84 403.34H234.84 M233.34 398.46V398.6 M233.34 403.2V403.34" stroke="#38901a" stroke-width="1" fill="none"/>
<path d="M237.71 401.47H240.71 M237.71 406.53H240.71 M239.21 401.47V401.7 M239.21 406.3V406.53" stroke="#38901a" stroke-width="1" fill="none"/>
<path d="M243.58 398.38H246.58 M243.58 403.62H246.58 M245.08 398.38V398.7 M245.08 403.3V403.62" stroke="#38901a" stroke-width="1" fill="none"/>
<path d="M249.45 388.28H252.45 M249.45 393.72H252.45 M250.95 388.28V388.7 M250.95 393.3V393.72" stroke="#38901a" stroke-width="1" fill="none"/>
<path d="M255.32 388.79H258.32 M255.32 394.41H258.32 M256.82 388.79V389.3 M256.82 393.9V394.41" stroke="#38901a" stroke-width="1" fill="none"/>
<path d="M261.19 401.99H264.19 M261.19 407.81H264.19 M262.69 401.99V402.6 M262.69 407.2V407.81" stroke="#38901a" stroke-width="1" fill="none"/>
<path d="M267.06 397.49H270.06 M267.06 403.51H270.06 M268.56 397.49V398.2 M268.56 402.8V403.51" stroke="#38901a" stroke-width="1" fill="none"/>
<path d="M272.93 398.29H275.93 M272.93 404.51H275.93 M274.43 398.29V399.1 M274.43 403.7V404.51" stroke="#38901a" stroke-width="1" fill="none"/>
<path d="M278.8 399.59H281.8 M278.8 406.01H281.8 M280.3 399.59V400.5 M280.3 405.1V406.01" stroke="#38901a" stroke-width="1" fill="none"/>
<path d="M284.67 406.58H287.67 M284.67 413.22H287.67 M286.17 406.58V407.6 M286.17 412.2V413.22" stroke="#38901a" stroke-width="1" fill="none"/>
<path d="M290.54 407.78H293.54 M290.54 414.62H293.54 M292.04 407.78V408.9 M292.04 413.5V414.62" stroke="#38901a" stroke-width="1" fill="none"/>
<path d="M296.41 409.27H299.41 M296.41 416.33H299.41 M297.91 409.27V410.5 M297.91 415.1V416.33" stroke="#38901a" stroke-width="1" fill="none"/>
<path d="M302.28 408.06H305.28 M302.28 415.34H305.28 M303.78 408.06V409.4 M303.78 414V415.34" stroke="#38901a" stroke-width="1" fill="none"/>
<path d="M308.15 407.95H311.15 M308.15 415.45H311.15 M309.65 407.95V409.4 M309.65 414V415.45" stroke="#38901a" stroke-width="1" fill="none"/>
<path d="M314.02 402.74H317.02 M314.02 410.46H317.02 M315.52 402.74V404.3 M315.52 408.9V410.46" stroke="#38901a" stroke-width="1" fill="none"/>
<path d="M319.89 409.83H322.89 M319.89 417.77H322.89 M321.39 409.83V411.5 M321.39 416.1V417.77" stroke="#38901a" stroke-width="1" fill="none"/>
<path d="M325.76 402.51H328.76 M325.76 410.69H328.76 M327.26 402.51V404.3 M327.26 408.9V410.69" stroke="#38901a" stroke-width="1" fill="none"/>
<path d="M331.63 404.1H334.63 M331.63 412.5H334.63 M333.13 404.1V406 M333.13 410.6V412.5" stroke="#38901a" stroke-width="1" fill="none"/>
<path d="M337.5 405.98H340.5 M337.5 414.62H340.5 M339 405.98V408 M339 412.6V414.62" stroke="#38901a" stroke-width="1" fill="none"/>
<path d="M343.37 413.96H346.37 M343.37 422.84H346.37 M344.87 413.96V416.1 M344.87 420.7V422.84" stroke="#38901a" stroke-width="1" fill="none"/>
<path d="M349.24 430.54H352.24 M349.24 439.66H352.24 M350.74 430.54V432.8 M350.74 437.4V439.66" stroke="#38901a" stroke-width="1" fill="none"/>
<path d="M355.11 419.22H358.11 M355.11 428.58H358.11 M356.61 419.22V421.6 M356.61 426.2V428.58" stroke="#38901a" stroke-width="1" fill="none"/>
<path d="M360.98 413H363.98 M360.98 422.6H363.98 M362.48 413V415.5 M362.48 420.1V422.6" stroke="#38901a" stroke-width="1" fill="none"/>
<polyline fill="none" stroke="#0000ff" stroke-width="1.1" points="74.85,386 80.72,387.6 86.59,389.8 92.46,394.4 98.33,397.2 104.2,400.5 110.07,400.4 115.94,400 121.81,401.8 127.68,400.4 133.55,401.3 139.42,401.6 145.29,403.7 151.16,404.8 157.03,403.6 162.9,405.1 168.77,406.9 174.64,400.3 180.51,405.3 186.38,412.1 192.25,399.2 198.12,403.4 203.99,409.8 209.86,416.7 215.73,415.6 221.6,416.7 227.47,414.9 233.34,420.5 239.21,429 245.08,422.7 250.95,415.6 256.82,420 262.69,429.9 268.56,429.9 274.43,429.9 280.3,429.5 286.17,439.7 292.04,439.7 297.91,435.5 303.78,439 309.65,438.5 315.52,432.6 321.39,437.5 327.26,447.2 333.13,439.6 339,446.4 344.87,451 350.74,481 356.61,443.4 362.48,451.6"/>
<path d="M74.85 385.2V386.8 M73.35 385.2H76.35 M73.35 386.8H76.35" stroke="#0000ff" stroke-width="1" fill="none"/>
<path d="M80.72 386.79V388.41 M79.22 386.79H82.22 M79.22 388.41H82.22" stroke="#0000ff" stroke-width="1" fill="none"/>
<path d="M86.59 388.97V390.63 M85.09 388.97H88.09 M85.09 390.63H88.09" stroke="#0000ff" stroke-width="1" fill="none"/>
<path d="M92.46 393.54V395.26 M90.96 393.54H93.96 M90.96 395.26H93.96" stroke="#0000ff" stroke-width="1" fill="none"/>
<path d="M98.33 396.31V398.09 M96.83 396.31H99.83 M96.83 398.09H99.83" stroke="#0000ff" stroke-width="1" fill="none"/>
<path d="M104.2 399.57V401.43 M102.7 399.57H105.7 M102.7 401.43H105.7" stroke="#0000ff" stroke-width="1" fill="none"/>
<path d="M110.07 399.43V401.37 M108.57 399.43H111.57 M108.57 401.37H111.57" stroke="#0000ff" stroke-width="1" fill="none"/>
<path d="M115.94 398.98V401.02 M114.44 398.98H117.44 M114.44 401.02H117.44" stroke="#0000ff" stroke-width="1" fill="none"/>
<path d="M121.81 400.74V402.86 M120.31 400.74H123.31 M120.31 402.86H123.31" stroke="#0000ff" stroke-width="1" fill="none"/>
<path d="M127.68 399.29V401.51 M126.18 399.29H129.18 M126.18 401.51H129.18" stroke="#0000ff" stroke-width="1" fill="none"/>
<path d="M133.55 400.13V402.47 M132.05 400.13H135.05 M132.05 402.47H135.05" stroke="#0000ff" stroke-width="1" fill="none"/>
<path d="M139.42 400.37V402.83 M137.92 400.37H140.92 M137.92 402.83H140.92" stroke="#0000ff" stroke-width="1" fill="none"/>
<path d="M145.29 402.42V404.98 M143.79 402.42H146.79 M143.79 404.98H146.79" stroke="#0000ff" stroke-width="1" fill="none"/>
<path d="M151.16 403.45V406.15 M149.66 403.45H152.66 M149.66 406.15H152.66" stroke="#0000ff" stroke-width="1" fill="none"/>
<path d="M157.03 402.19V405.01 M155.53 402.19H158.53 M155.53 405.01H158.53" stroke="#0000ff" stroke-width="1" fill="none"/>
<path d="M162.9 403.62V406.58 M161.4 403.62H164.4 M161.4 406.58H164.4" stroke="#0000ff" stroke-width="1" fill="none"/>
<path d="M168.77 405.35V408.45 M167.27 405.35H170.27 M167.27 408.45H170.27" stroke="#0000ff" stroke-width="1" fill="none"/>
<path d="M174.64 398.68V401.92 M173.14 398.68H176.14 M173.14 401.92H176.14" stroke="#0000ff" stroke-width="1" fill="none"/>
<path d="M180.51 403.61V406.99 M179.01 403.61H182.01 M179.01 406.99H182.01" stroke="#0000ff" stroke-width="1" fill="none"/>
<path d="M186.38 410.33V413.87 M184.88 410.33H187.88 M184.88 413.87H187.88" stroke="#0000ff" stroke-width="1" fill="none"/>
<path d="M192.25 397.36V401.04 M190.75 397.36H193.75 M190.75 401.04H193.75" stroke="#0000ff" stroke-width="1" fill="none"/>
<path d="M198.12 401.48V405.32 M196.62 401.48H199.62 M196.62 405.32H199.62" stroke="#0000ff" stroke-width="1" fill="none"/>
<path d="M203.99 407.8V411.8 M202.49 407.8H205.49 M202.49 411.8H205.49" stroke="#0000ff" stroke-width="1" fill="none"/>
<path d="M209.86 414.61V418.79 M208.36 414.61H211.36 M208.36 418.79H211.36" stroke="#0000ff" stroke-width="1" fill="none"/>
<path d="M215.73 413.43V417.77 M214.23 413.43H217.23 M214.23 417.77H217.23" stroke="#0000ff" stroke-width="1" fill="none"/>
<path d="M221.6 414.44V418.96 M220.1 414.44H223.1 M220.1 418.96H223.1" stroke="#0000ff" stroke-width="1" fill="none"/>
<path d="M227.47 412.55V417.25 M225.97 412.55H228.97 M225.97 417.25H228.97" stroke="#0000ff" stroke-width="1" fill="none"/>
<path d="M233.34 418.06V422.94 M231.84 418.06H234.84 M231.84 422.94H234.84" stroke="#0000ff" stroke-width="1" fill="none"/>
<path d="M239.21 426.47V431.53 M237.71 426.47H240.71 M237.71 431.53H240.71" stroke="#0000ff" stroke-width="1" fill="none"/>
<path d="M245.08 420.08V425.32 M243.58 420.08H246.58 M243.58 425.32H246.58" stroke="#0000ff" stroke-width="1" fill="none"/>
<path d="M250.95 412.88V418.32 M249.45 412.88H252.45 M249.45 418.32H252.45" stroke="#0000ff" stroke-width="1" fill="none"/>
<path d="M256.82 417.19V422.81 M255.32 417.19H258.32 M255.32 422.81H258.32" stroke="#0000ff" stroke-width="1" fill="none"/>
<path d="M262.69 426.99V432.81 M261.19 426.99H264.19 M261.19 432.81H264.19" stroke="#0000ff" stroke-width="1" fill="none"/>
<path d="M268.56 426.89V432.91 M267.06 426.89H270.06 M267.06 432.91H270.06" stroke="#0000ff" stroke-width="1" fill="none"/>
<path d="M274.43 426.79V433.01 M272.93 426.79H275.93 M272.93 433.01H275.93" stroke="#0000ff" stroke-width="1" fill="none"/>
<path d="M280.3 426.29V432.71 M278.8 426.29H281.8 M278.8 432.71H281.8" stroke="#0000ff" stroke-width="1" fill="none"/>
<path d="M286.17 436.38V443.02 M284.67 436.38H287.67 M284.67 443.02H287.67" stroke="#0000ff" stroke-width="1" fill="none"/>
<path d="M292.04 436.28V443.12 M290.54 436.28H293.54 M290.54 443.12H293.54" stroke="#0000ff" stroke-width="1" fill="none"/>
<path d="M297.91 431.97V439.03 M296.41 431.97H299.41 M296.41 439.03H299.41" stroke="#0000ff" stroke-width="1" fill="none"/>
<path d="M303.78 435.36V442.64 M302.28 435.36H305.28 M302.28 442.64H305.28" stroke="#0000ff" stroke-width="1" fill="none"/>
<path d="M309.65 434.75V442.25 M308.15 434.75H311.15 M308.15 442.25H311.15" stroke="#0000ff" stroke-width="1" fill="none"/>
<path d="M315.52 428.74V436.46 M314.02 428.74H317.02 M314.02 436.46H317.02" stroke="#0000ff" stroke-width="1" fill="none"/>
<path d="M321.39 433.53V441.47 M319.89 433.53H322.89 M319.89 441.47H322.89" stroke="#0000ff" stroke-width="1" fill="none"/>
<path d="M327.26 443.11V451.29 M325.76 443.11H328.76 M325.76 451.29H328.76" stroke="#0000ff" stroke-width="1" fill="none"/>
<path d="M333.13 435.4V443.8 M331.63 435.4H334.63 M331.63 443.8H334.63" stroke="#0000ff" stroke-width="1" fill="none"/>
<path d="M339 442.08V450.72 M337.5 442.08H340.5 M337.5 450.72H340.5" stroke="#0000ff" stroke-width="1" fill="none"/>
<path d="M344.87 446.56V455.44 M343.37 446.56H346.37 M343.37 455.44H346.37" stroke="#0000ff" stroke-width="1" fill="none"/>
<path d="M350.74 476.44V485.56 M349.24 476.44H352.24 M349.24 485.56H352.24" stroke="#0000ff" stroke-width="1" fill="none"/>
<path d="M356.61 438.72V448.08 M355.11 438.72H358.11 M355.11 448.08H358.11" stroke="#0000ff" stroke-width="1" fill="none"/>
<path d="M362.48 446.8V456.4 M360.98 446.8H363.98 M360.98 456.4H363.98" stroke="#0000ff" stroke-width="1" fill="none"/>
<path d="M74.85 382.82L77.75 388.12L71.95 388.12Z" fill="#0000ff"/>
<path d="M80.72 384.42L83.62 389.72L77.82 389.72Z" fill="#0000ff"/>
<path d="M86.59 386.62L89.49 391.92L83.69 391.92Z" fill="#0000ff"/>
<path d="M92.46 391.22L95.36 396.52L89.56 396.52Z" fill="#0000ff"/>
<path d="M98.33 394.02L101.23 399.32L95.43 399.32Z" fill="#0000ff"/>
<path d="M104.2 397.32L107.1 402.62L101.3 402.62Z" fill="#0000ff"/>
<path d="M110.07 397.22L112.97 402.52L107.17 402.52Z" fill="#0000ff"/>
<path d="M115.94 396.82L118.84 402.12L113.04 402.12Z" fill="#0000ff"/>
<path d="M121.81 398.62L124.71 403.92L118.91 403.92Z" fill="#0000ff"/>
<path d="M127.68 397.22L130.58 402.52L124.78 402.52Z" fill="#0000ff"/>
<path d="M133.55 398.12L136.45 403.42L130.65 403.42Z" fill="#0000ff"/>
<path d="M139.42 398.42L142.32 403.72L136.52 403.72Z" fill="#0000ff"/>
<path d="M145.29 400.52L148.19 405.82L142.39 405.82Z" fill="#0000ff"/>
<path d="M151.16 401.62L154.06 406.92L148.26 406.92Z" fill="#0000ff"/>
<path d="M157.03 400.42L159.93 405.72L154.13 405.72Z" fill="#0000ff"/>
<path d="M162.9 401.92L165.8 407.22L160 407.22Z" fill="#0000ff"/>
<path d="M168.77 403.72L171.67 409.02L165.87 409.02Z" fill="#0000ff"/>
<path d="M174.64 397.12L177.54 402.42L171.74 402.42Z" fill="#0000ff"/>
<path d="M180.51 402.12L183.41 407.42L177.61 407.42Z" fill="#0000ff"/>
<path d="M186.38 408.92L189.28 414.22L183.48 414.22Z" fill="#0000ff"/>
<path d="M192.25 396.02L195.15 401.32L189.35 401.32Z" fill="#0000ff"/>
<path d="M198.12 400.22L201.02 405.52L195.22 405.52Z" fill="#0000ff"/>
<path d="M203.99 406.62L206.89 411.92L201.09 411.92Z" fill="#0000ff"/>
<path d="M209.86 413.52L212.76 418.82L206.96 418.82Z" fill="#0000ff"/>
<path d="M215.73 412.42L218.63 417.72L212.83 417.72Z" fill="#0000ff"/>
<path d="M221.6 413.52L224.5 418.82L218.7 418.82Z" fill="#0000ff"/>
<path d="M227.47 411.72L230.37 417.02L224.57 417.02Z" fill="#0000ff"/>
<path d="M233.34 417.32L236.24 422.62L230.44 422.62Z" fill="#0000ff"/>
<path d="M239.21 425.82L242.11 431.12L236.31 431.12Z" fill="#0000ff"/>
<path d="M245.08 419.52L247.98 424.82L242.18 424.82Z" fill="#0000ff"/>
<path d="M250.95 412.42L253.85 417.72L248.05 417.72Z" fill="#0000ff"/>
<path d="M256.82 416.82L259.72 422.12L253.92 422.12Z" fill="#0000ff"/>
<path d="M262.69 426.72L265.59 432.02L259.79 432.02Z" fill="#0000ff"/>
<path d="M268.56 426.72L271.46 432.02L265.66 432.02Z" fill="#0000ff"/>
<path d="M274.43 426.72L277.33 432.02L271.53 432.02Z" fill="#0000ff"/>
<path d="M280.3 426.32L283.2 431.62L277.4 431.62Z" fill="#0000ff"/>
<path d="M286.17 436.52L289.07 441.82L283.27 441.82Z" fill="#0000ff"/>
<path d="M292.04 436.52L294.94 441.82L289.14 441.82Z" fill="#0000ff"/>
<path d="M297.91 432.32L300.81 437.62L295.01 437.62Z" fill="#0000ff"/>
<path d="M303.78 435.82L306.68 441.12L300.88 441.12Z" fill="#0000ff"/>
<path d="M309.65 435.32L312.55 440.62L306.75 440.62Z" fill="#0000ff"/>
<path d="M315.52 429.42L318.42 434.72L312.62 434.72Z" fill="#0000ff"/>
<path d="M321.39 434.32L324.29 439.62L318.49 439.62Z" fill="#0000ff"/>
<path d="M327.26 444.02L330.16 449.32L324.36 449.32Z" fill="#0000ff"/>
<path d="M333.13 436.42L336.03 441.72L330.23 441.72Z" fill="#0000ff"/>
<path d="M339 443.22L341.9 448.52L336.1 448.52Z" fill="#0000ff"/>
<path d="M344.87 447.82L347.77 453.12L341.97 453.12Z" fill="#0000ff"/>
<path d="M350.74 477.82L353.64 483.12L347.84 483.12Z" fill="#0000ff"/>
<path d="M356.61 440.22L359.51 445.52L353.71 445.52Z" fill="#0000ff"/>
<path d="M362.48 448.42L365.38 453.72L359.58 453.72Z" fill="#0000ff"/>
<polyline fill="none" stroke="#ff0000" stroke-width="1" stroke-dasharray="1,1.5" points="74.85,402.8 80.72,403.9 86.59,405.4 92.46,407.9 98.33,407.4 104.2,408.9 110.07,407.4 115.94,406.7 121.81,406.2 127.68,404 133.55,402.2 139.42,399.1 145.29,397.9 151.16,398.7 157.03,393.7 162.9,391.4 168.77,390.6 174.64,378.9 180.51,381 186.38,387.9 192.25,368.3 198.12,365.7 203.99,375.2 209.86,372.6 215.73,368.3 221.6,358.7 227.47,363.7 233.34,360 239.21,358.5 245.08,352.3 250.95,343.4 256.82,348.3 262.69,357.6 268.56,346.6 274.43,341.9 280.3,340.7 286.17,341.6 292.04,347.8 297.91,342.2 303.78,344 309.65,333.8 315.52,342.4 321.39,333.8 327.26,324.1 333.13,324.5 339,328.1 344.87,337.3 350.74,344.8 356.61,330.6 362.48,328.5"/>
<path d="M74.85 402V403.6 M73.35 402H76.35 M73.35 403.6H76.35" stroke="#ff0000" stroke-width="1" fill="none"/>
<path d="M80.72 403.09V404.71 M79.22 403.09H82.22 M79.22 404.71H82.22" stroke="#ff0000" stroke-width="1" fill="none"/>
<path d="M86.59 404.57V406.23 M85.09 404.57H88.09 M85.09 406.23H88.09" stroke="#ff0000" stroke-width="1" fill="none"/>
<path d="M92.46 407.04V408.76 M90.96 407.04H93.96 M90.96 408.76H93.96" stroke="#ff0000" stroke-width="1" fill="none"/>
<path d="M98.33 406.51V408.29 M96.83 406.51H99.83 M96.83 408.29H99.83" stroke="#ff0000" stroke-width="1" fill="none"/>
<path d="M104.2 407.97V409.83 M102.7 407.97H105.7 M102.7 409.83H105.7" stroke="#ff0000" stroke-width="1" fill="none"/>
<path d="M110.07 406.43V408.37 M108.57 406.43H111.57 M108.57 408.37H111.57" stroke="#ff0000" stroke-width="1" fill="none"/>
<path d="M115.94 405.68V407.72 M114.44 405.68H117.44 M114.44 407.72H117.44" stroke="#ff0000" stroke-width="1" fill="none"/>
<path d="M121.81 405.14V407.26 M120.31 405.14H123.31 M120.31 407.26H123.31" stroke="#ff0000" stroke-width="1" fill="none"/>
<path d="M127.68 402.89V405.11 M126.18 402.89H129.18 M126.18 405.11H129.18" stroke="#ff0000" stroke-width="1" fill="none"/>
<path d="M133.55 401.03V403.37 M132.05 401.03H135.05 M132.05 403.37H135.05" stroke="#ff0000" stroke-width="1" fill="none"/>
<path d="M139.42 397.87V400.33 M137.92 397.87H140.92 M137.92 400.33H140.92" stroke="#ff0000" stroke-width="1" fill="none"/>
<path d="M145.29 396.62V399.18 M143.79 396.62H146.79 M143.79 399.18H146.79" stroke="#ff0000" stroke-width="1" fill="none"/>
<path d="M151.16 397.35V400.05 M149.66 397.35H152.66 M149.66 400.05H152.66" stroke="#ff0000" stroke-width="1" fill="none"/>
<path d="M157.03 392.29V395.11 M155.53 392.29H158.53 M155.53 395.11H158.53" stroke="#ff0000" stroke-width="1" fill="none"/>
<path d="M162.9 389.92V392.88 M161.4 389.92H164.4 M161.4 392.88H164.4" stroke="#ff0000" stroke-width="1" fill="none"/>
<path d="M168.77 389.05V392.15 M167.27 389.05H170.27 M167.27 392.15H170.27" stroke="#ff0000" stroke-width="1" fill="none"/>
<path d="M174.64 377.28V380.52 M173.14 377.28H176.14 M173.14 380.52H176.14" stroke="#ff0000" stroke-width="1" fill="none"/>
<path d="M180.51 379.31V382.69 M179.01 379.31H182.01 M179.01 382.69H182.01" stroke="#ff0000" stroke-width="1" fill="none"/>
<path d="M186.38 386.13V389.67 M184.88 386.13H187.88 M184.88 389.67H187.88" stroke="#ff0000" stroke-width="1" fill="none"/>
<path d="M192.25 366.46V370.14 M190.75 366.46H193.75 M190.75 370.14H193.75" stroke="#ff0000" stroke-width="1" fill="none"/>
<path d="M198.12 363.78V367.62 M196.62 363.78H199.62 M196.62 367.62H199.62" stroke="#ff0000" stroke-width="1" fill="none"/>
<path d="M203.99 373.2V377.2 M202.49 373.2H205.49 M202.49 377.2H205.49" stroke="#ff0000" stroke-width="1" fill="none"/>
<path d="M209.86 370.51V374.69 M208.36 370.51H211.36 M208.36 374.69H211.36" stroke="#ff0000" stroke-width="1" fill="none"/>
<path d="M215.73 366.13V370.47 M214.23 366.13H217.23 M214.23 370.47H217.23" stroke="#ff0000" stroke-width="1" fill="none"/>
<path d="M221.6 356.44V360.96 M220.1 356.44H223.1 M220.1 360.96H223.1" stroke="#ff0000" stroke-width="1" fill="none"/>
<path d="M227.47 361.35V366.05 M225.97 361.35H228.97 M225.97 366.05H228.97" stroke="#ff0000" stroke-width="1" fill="none"/>
<path d="M233.34 357.56V362.44 M231.84 357.56H234.84 M231.84 362.44H234.84" stroke="#ff0000" stroke-width="1" fill="none"/>
<path d="M239.21 355.97V361.03 M237.71 355.97H240.71 M237.71 361.03H240.71" stroke="#ff0000" stroke-width="1" fill="none"/>
<path d="M245.08 349.68V354.92 M243.58 349.68H246.58 M243.58 354.92H246.58" stroke="#ff0000" stroke-width="1" fill="none"/>
<path d="M250.95 340.68V346.12 M249.45 340.68H252.45 M249.45 346.12H252.45" stroke="#ff0000" stroke-width="1" fill="none"/>
<path d="M256.82 345.49V351.11 M255.32 345.49H258.32 M255.32 351.11H258.32" stroke="#ff0000" stroke-width="1" fill="none"/>
<path d="M262.69 354.69V360.51 M261.19 354.69H264.19 M261.19 360.51H264.19" stroke="#ff0000" stroke-width="1" fill="none"/>
<path d="M268.56 343.59V349.61 M267.06 343.59H270.06 M267.06 349.61H270.06" stroke="#ff0000" stroke-width="1" fill="none"/>
<path d="M274.43 338.79V345.01 M272.93 338.79H275.93 M272.93 345.01H275.93" stroke="#ff0000" stroke-width="1" fill="none"/>
<path d="M280.3 337.49V343.91 M278.8 337.49H281.8 M278.8 343.91H281.8" stroke="#ff0000" stroke-width="1" fill="none"/>
<path d="M286.17 338.28V344.92 M284.67 338.28H287.67 M284.67 344.92H287.67" stroke="#ff0000" stroke-width="1" fill="none"/>
<path d="M292.04 344.38V351.22 M290.54 344.38H293.54 M290.54 351.22H293.54" stroke="#ff0000" stroke-width="1" fill="none"/>
<path d="M297.91 338.67V345.73 M296.41 338.67H299.41 M296.41 345.73H299.41" stroke="#ff0000" stroke-width="1" fill="none"/>
<path d="M303.78 340.36V347.64 M302.28 340.36H305.28 M302.28 347.64H305.28" stroke="#ff0000" stroke-width="1" fill="none"/>
<path d="M309.65 330.05V337.55 M308.15 330.05H311.15 M308.15 337.55H311.15" stroke="#ff0000" stroke-width="1" fill="none"/>
<path d="M315.52 338.54V346.26 M314.02 338.54H317.02 M314.02 346.26H317.02" stroke="#ff0000" stroke-width="1" fill="none"/>
<path d="M321.39 329.83V337.77 M319.89 329.83H322.89 M319.89 337.77H322.89" stroke="#ff0000" stroke-width="1" fill="none"/>
<path d="M327.26 320.01V328.19 M325.76 320.01H328.76 M325.76 328.19H328.76" stroke="#ff0000" stroke-width="1" fill="none"/>
<path d="M333.13 320.3V328.7 M331.63 320.3H334.63 M331.63 328.7H334.63" stroke="#ff0000" stroke-width="1" fill="none"/>
<path d="M339 323.78V332.42 M337.5 323.78H340.5 M337.5 332.42H340.5" stroke="#ff0000" stroke-width="1" fill="none"/>
<path d="M344.87 332.86V341.74 M343.37 332.86H346.37 M343.37 341.74H346.37" stroke="#ff0000" stroke-width="1" fill="none"/>
<path d="M350.74 340.24V349.36 M349.24 340.24H352.24 M349.24 349.36H352.24" stroke="#ff0000" stroke-width="1" fill="none"/>
<path d="M356.61 325.92V335.28 M355.11 325.92H358.11 M355.11 335.28H358.11" stroke="#ff0000" stroke-width="1" fill="none"/>
<path d="M362.48 323.7V333.3 M360.98 323.7H363.98 M360.98 333.3H363.98" stroke="#ff0000" stroke-width="1" fill="none"/>
<path d="M74.85 399.3L77.45 402.8L74.85 406.3L72.25 402.8Z" fill="#ff0000"/>
<path d="M80.72 400.4L83.32 403.9L80.72 407.4L78.12 403.9Z" fill="#ff0000"/>
<path d="M86.59 401.9L89.19 405.4L86.59 408.9L83.99 405.4Z" fill="#ff0000"/>
<path d="M92.46 404.4L95.06 407.9L92.46 411.4L89.86 407.9Z" fill="#ff0000"/>
<path d="M98.33 403.9L100.93 407.4L98.33 410.9L95.73 407.4Z" fill="#ff0000"/>
<path d="M104.2 405.4L106.8 408.9L104.2 412.4L101.6 408.9Z" fill="#ff0000"/>
<path d="M110.07 403.9L112.67 407.4L110.07 410.9L107.47 407.4Z" fill="#ff0000"/>
<path d="M115.94 403.2L118.54 406.7L115.94 410.2L113.34 406.7Z" fill="#ff0000"/>
<path d="M121.81 402.7L124.41 406.2L121.81 409.7L119.21 406.2Z" fill="#ff0000"/>
<path d="M127.68 400.5L130.28 404L127.68 407.5L125.08 404Z" fill="#ff0000"/>
<path d="M133.55 398.7L136.15 402.2L133.55 405.7L130.95 402.2Z" fill="#ff0000"/>
<path d="M139.42 395.6L142.02 399.1L139.42 402.6L136.82 399.1Z" fill="#ff0000"/>
<path d="M145.29 394.4L147.89 397.9L145.29 401.4L142.69 397.9Z" fill="#ff0000"/>
<path d="M151.16 395.2L153.76 398.7L151.16 402.2L148.56 398.7Z" fill="#ff0000"/>
<path d="M157.03 390.2L159.63 393.7L157.03 397.2L154.43 393.7Z" fill="#ff0000"/>
<path d="M162.9 387.9L165.5 391.4L162.9 394.9L160.3 391.4Z" fill="#ff0000"/>
<path d="M168.77 387.1L171.37 390.6L168.77 394.1L166.17 390.6Z" fill="#ff0000"/>
<path d="M174.64 375.4L177.24 378.9L174.64 382.4L172.04 378.9Z" fill="#ff0000"/>
<path d="M180.51 377.5L183.11 381L180.51 384.5L177.91 381Z" fill="#ff0000"/>
<path d="M186.38 384.4L188.98 387.9L186.38 391.4L183.78 387.9Z" fill="#ff0000"/>
<path d="M192.25 364.8L194.85 368.3L192.25 371.8L189.65 368.3Z" fill="#ff0000"/>
<path d="M198.12 362.2L200.72 365.7L198.12 369.2L195.52 365.7Z" fill="#ff0000"/>
<path d="M203.99 371.7L206.59 375.2L203.99 378.7L201.39 375.2Z" fill="#ff0000"/>
<path d="M209.86 369.1L212.46 372.6L209.86 376.1L207.26 372.6Z" fill="#ff0000"/>
<path d="M215.73 364.8L218.33 368.3L215.73 371.8L213.13 368.3Z" fill="#ff0000"/>
<path d="M221.6 355.2L224.2 358.7L221.6 362.2L219 358.7Z" fill="#ff0000"/>
<path d="M227.47 360.2L230.07 363.7L227.47 367.2L224.87 363.7Z" fill="#ff0000"/>
<path d="M233.34 356.5L235.94 360L233.34 363.5L230.74 360Z" fill="#ff0000"/>
<path d="M239.21 355L241.81 358.5L239.21 362L236.61 358.5Z" fill="#ff0000"/>
<path d="M245.08 348.8L247.68 352.3L245.08 355.8L242.48 352.3Z" fill="#ff0000"/>
<path d="M250.95 339.9L253.55 343.4L250.95 346.9L248.35 343.4Z" fill="#ff0000"/>
<path d="M256.82 344.8L259.42 348.3L256.82 351.8L254.22 348.3Z" fill="#ff0000"/>
<path d="M262.69 354.1L265.29 357.6L262.69 361.1L260.09 357.6Z" fill="#ff0000"/>
<path d="M268.56 343.1L271.16 346.6L268.56 350.1L265.96 346.6Z" fill="#ff0000"/>
<path d="M274.43 338.4L277.03 341.9L274.43 345.4L271.83 341.9Z" fill="#ff0000"/>
<path d="M280.3 337.2L282.9 340.7L280.3 344.2L277.7 340.7Z" fill="#ff0000"/>
<path d="M286.17 338.1L288.77 341.6L286.17 345.1L283.57 341.6Z" fill="#ff0000"/>
<path d="M292.04 344.3L294.64 347.8L292.04 351.3L289.44 347.8Z" fill="#ff0000"/>
<path d="M297.91 338.7L300.51 342.2L297.91 345.7L295.31 342.2Z" fill="#ff0000"/>
<path d="M303.78 340.5L306.38 344L303.78 347.5L301.18 344Z" fill="#ff0000"/>
<path d="M309.65 330.3L312.25 333.8L309.65 337.3L307.05 333.8Z" fill="#ff0000"/>
<path d="M315.52 338.9L318.12 342.4L315.52 345.9L312.92 342.4Z" fill="#ff0000"/>
<path d="M321.39 330.3L323.99 333.8L321.39 337.3L318.79 333.8Z" fill="#ff0000"/>
<path d="M327.26 320.6L329.86 324.1L327.26 327.6L324.66 324.1Z" fill="#ff0000"/>
<path d="M333.13 321L335.73 324.5L333.13 328L330.53 324.5Z" fill="#ff0000"/>
<path d="M339 324.6L341.6 328.1L339 331.6L336.4 328.1Z" fill="#ff0000"/>
<path d="M344.87 333.8L347.47 337.3L344.87 340.8L342.27 337.3Z" fill="#ff0000"/>
<path d="M350.74 341.3L353.34 344.8L350.74 348.3L348.14 344.8Z" fill="#ff0000"/>
<path d="M356.61 327.1L359.21 330.6L356.61 334.1L354.01 330.6Z" fill="#ff0000"/>
<path d="M362.48 325L365.08 328.5L362.48 332L359.88 328.5Z" fill="#ff0000"/>
</g>
<rect x="45.5" y="17.5" width="326" height="300" fill="none" stroke="#000" stroke-width="1.2"/>
<rect x="45.5" y="317.5" width="326" height="160.25" fill="none" stroke="#000" stroke-width="1.2"/>
<line x1="44.9" y1="477.9" x2="372.1" y2="477.9" stroke="#000" stroke-width="1.5"/>
<path d="M45.5 313.7H51 M371.5 313.7H366 M45.5 308.89H51 M371.5 308.89H366 M45.5 304.83H51 M371.5 304.83H366 M45.5 301.31H51 M371.5 301.31H366 M45.5 298.2H51 M371.5 298.2H366 M45.5 295.42H56.5 M371.5 295.42H360.5 M45.5 277.14H51 M371.5 277.14H366 M45.5 266.44H51 M371.5 266.44H366 M45.5 258.86H51 M371.5 258.86H366 M45.5 252.97H51 M371.5 252.97H366 M45.5 248.16H51 M371.5 248.16H366 M45.5 244.1H51 M371.5 244.1H366 M45.5 240.58H51 M371.5 240.58H366 M45.5 237.47H51 M371.5 237.47H366 M45.5 234.69H56.5 M371.5 234.69H360.5 M45.5 216.41H51 M371.5 216.41H366 M45.5 205.71H51 M371.5 205.71H366 M45.5 198.13H51 M371.5 198.13H366 M45.5 192.24H51 M371.5 192.24H366 M45.5 187.43H51 M371.5 187.43H366 M45.5 183.37H51 M371.5 183.37H366 M45.5 179.85H51 M371.5 179.85H366 M45.5 176.74H51 M371.5 176.74H366 M45.5 173.96H56.5 M371.5 173.96H360.5 M45.5 155.68H51 M371.5 155.68H366 M45.5 144.98H51 M371.5 144.98H366 M45.5 137.4H51 M371.5 137.4H366 M45.5 131.51H51 M371.5 131.51H366 M45.5 126.7H51 M371.5 126.7H366 M45.5 122.64H51 M371.5 122.64H366 M45.5 119.12H51 M371.5 119.12H366 M45.5 116.01H51 M371.5 116.01H366 M45.5 113.23H56.5 M371.5 113.23H360.5 M45.5 94.95H51 M371.5 94.95H366 M45.5 84.25H51 M371.5 84.25H366 M45.5 76.67H51 M371.5 76.67H366 M45.5 70.78H51 M371.5 70.78H366 M45.5 65.97H51 M371.5 65.97H366 M45.5 61.91H51 M371.5 61.91H366 M45.5 58.39H51 M371.5 58.39H366 M45.5 55.28H51 M371.5 55.28H366 M45.5 52.5H56.5 M371.5 52.5H360.5 M45.5 34.22H51 M371.5 34.22H366 M45.5 23.52H51 M371.5 23.52H366 M45.5 17.5V25.5 M45.5 317.5V309.5 M45.5 317.5V322.5 M45.5 477.75V472.75 M74.85 17.5V21.5 M74.85 317.5V313.5 M74.85 317.5V320 M74.85 477.75V475.25 M104.2 17.5V21.5 M104.2 317.5V313.5 M104.2 317.5V320 M104.2 477.75V475.25 M133.55 17.5V21.5 M133.55 317.5V313.5 M133.55 317.5V320 M133.55 477.75V475.25 M162.9 17.5V25.5 M162.9 317.5V309.5 M162.9 317.5V322.5 M162.9 477.75V472.75 M192.25 17.5V21.5 M192.25 317.5V313.5 M192.25 317.5V320 M192.25 477.75V475.25 M221.6 17.5V21.5 M221.6 317.5V313.5 M221.6 317.5V320 M221.6 477.75V475.25 M250.95 17.5V21.5 M250.95 317.5V313.5 M250.95 317.5V320 M250.95 477.75V475.25 M280.3 17.5V25.5 M280.3 317.5V309.5 M280.3 317.5V322.5 M280.3 477.75V472.75 M309.65 17.5V21.5 M309.65 317.5V313.5 M309.65 317.5V320 M309.65 477.75V475.25 M339 17.5V21.5 M339 317.5V313.5 M339 317.5V320 M339 477.75V475.25 M368.35 17.5V21.5 M368.35 317.5V313.5 M368.35 317.5V320 M368.35 477.75V475.25 M45.5 458.74H53 M371.5 458.74H364 M45.5 442.7H50.8 M371.5 442.7H366.2 M45.5 429.13H50.8 M371.5 429.13H366.2 M45.5 417.38H50.8 M371.5 417.38H366.2 M45.5 407.02H50.8 M371.5 407.02H366.2 M45.5 397.75H53 M371.5 397.75H364 M45.5 389.36H50.8 M371.5 389.36H366.2 M45.5 381.71H50.8 M371.5 381.71H366.2 M45.5 374.67H50.8 M371.5 374.67H366.2 M45.5 368.14H50.8 M371.5 368.14H366.2 M45.5 362.07H50.8 M371.5 362.07H366.2 M45.5 356.4H50.8 M371.5 356.4H366.2 M45.5 351.06H50.8 M371.5 351.06H366.2 M45.5 346.03H50.8 M371.5 346.03H366.2 M45.5 341.27H50.8 M371.5 341.27H366.2 M45.5 336.76H53 M371.5 336.76H364 M45.5 332.47H50.8 M371.5 332.47H366.2 M45.5 328.38H50.8 M371.5 328.38H366.2 M45.5 324.46H50.8 M371.5 324.46H366.2 M45.5 320.72H50.8 M371.5 320.72H366.2" fill="none" stroke="#000" stroke-width="1"/>
<text x="51.9" y="14" font-size="12" text-anchor="start" fill="#000" >13000 GeV pp</text>
<text x="366" y="14" font-size="12" text-anchor="end" fill="#000" >Z+Jet</text>
<text x="40.6" y="57" font-size="11.8" text-anchor="end" fill="#000" >10</text>
<text x="40.2" y="117.83" font-size="11.8" text-anchor="end" fill="#000" >1</text>
<text x="21.1" y="179.26" font-size="11.8" text-anchor="start" fill="#000" >10</text>
<text x="32.65" y="174.06" font-size="7.7" text-anchor="start" fill="#000" >&#8722;1</text>
<text x="19" y="239.99" font-size="11.8" text-anchor="start" fill="#000" >10</text>
<text x="30.6" y="234.79" font-size="7.7" text-anchor="start" fill="#000" >&#8722;2</text>
<text x="19" y="300.72" font-size="11.8" text-anchor="start" fill="#000" >10</text>
<text x="31" y="295.52" font-size="7.7" text-anchor="start" fill="#000" >&#8722;3</text>
<text x="38.8" y="340.36" font-size="11.8" text-anchor="end" fill="#000" >2</text>
<text x="374" y="340.36" font-size="11.8" text-anchor="start" fill="#000" >2</text>
<text x="38.8" y="401.35" font-size="11.8" text-anchor="end" fill="#000" >1</text>
<text x="374" y="401.35" font-size="11.8" text-anchor="start" fill="#000" >1</text>
<text x="38.8" y="462.34" font-size="11.8" text-anchor="end" fill="#000" >0.5</text>
<text x="374" y="462.34" font-size="11.8" text-anchor="start" fill="#000" >0.5</text>
<text x="45.5" y="489" font-size="11.8" text-anchor="middle" fill="#000" >0</text>
<text x="162.9" y="489" font-size="11.8" text-anchor="middle" fill="#000" >2</text>
<text x="280.3" y="489" font-size="11.8" text-anchor="middle" fill="#000" >4</text>
<text x="289.2" y="500.8" font-size="11.8" text-anchor="start" fill="#000" letter-spacing="0.45">Mean</text>
<text x="322.4" y="500.8" font-size="11.8" text-anchor="start" fill="#000" >p</text>
<text x="330" y="507.4" font-size="8.2" text-anchor="start" fill="#000" >T</text>
<text x="334.6" y="500.8" font-size="11.8" text-anchor="start" fill="#000" letter-spacing="0.3">/d&#951; d&#981;</text>
<text x="92.2" y="41.8" font-size="12" text-anchor="start" fill="#000" >Toward region, 60 &lt;</text>
<text x="202.1" y="41.8" font-size="12" text-anchor="start" fill="#000" >p</text>
<text x="205.3" y="36.3" font-size="8" text-anchor="start" fill="#000" >Z</text>
<text x="204.6" y="48.9" font-size="8.5" text-anchor="start" fill="#000" >T</text>
<text x="214.8" y="41.8" font-size="12" text-anchor="start" fill="#000" >&lt; 80 [GeV], inclusive</text>
<text transform="translate(15.2,166.4) rotate(-90)" font-size="11.8">1/N<tspan font-size="7.6" dy="3">ev</tspan><tspan dy="-3"> dN</tspan><tspan font-size="7.6" dy="3">ev</tspan><tspan dy="-3">/d mean</tspan><tspan dx="1"> p</tspan><tspan font-size="7.8" dy="6.7" dx="-0.8">T</tspan><tspan dy="-6.7" dx="-0.4"> [GeV]</tspan><tspan font-size="8.3" dy="-7" dx="0.3">1</tspan></text>
<text transform="translate(19.5,396.7) rotate(-90)" font-size="9" textLength="62" lengthAdjust="spacing" text-anchor="middle">Ratio to ATLAS</text>
<text transform="translate(380.2,127.5) rotate(-90)" font-size="9.5" textLength="110.3" lengthAdjust="spacing" fill="#808080">Rivet 4.1.0, &#8805; 3.8M events</text>
<text transform="translate(380.9,313.6) rotate(-90)" font-size="9.41" textLength="147.5" lengthAdjust="spacing" fill="#808080">mcplots.cern.ch [arXiv:2401.10821]</text>
<text x="207.75" y="301.9" font-size="7.9" text-anchor="middle" fill="#a0a0a0" textLength="89.5" lengthAdjust="spacing">(ATLAS_2019_I1736531)</text>
<text x="94.3" y="236.9" font-size="9.5" text-anchor="start" fill="#000" >ATLAS</text>
<text x="94.3" y="249.9" font-size="9.5" text-anchor="start" fill="#000" >Herwig 7.2.1 default</text>
<text x="94.3" y="262.4" font-size="9.5" text-anchor="start" fill="#000" >Pythia 8.315 default</text>
<text x="94.3" y="275.4" font-size="9.5" text-anchor="start" fill="#000" >Sherpa 2.2.9 default</text>
<rect x="73.65" y="231.15" width="5.5" height="5.5" fill="#000"/>
<line x1="64.2" y1="246.8" x2="87.8" y2="246.8" stroke="#38901a" stroke-width="1" stroke-dasharray="2.5,2"/>
<rect x="73.7" y="244.3" width="5" height="5" fill="#fff" stroke="#38901a" stroke-width="1.1"/>
<path d="M74.9 245.9H77.5M74.9 247.7H77.5" stroke="#38901a" stroke-width="0.9"/>
<line x1="64.2" y1="259.8" x2="88.6" y2="259.8" stroke="#0000ff" stroke-width="1.1"/>
<path d="M76.2 256.5L79.2 262L73.2 262Z" fill="#0000ff"/>
<line x1="64.2" y1="272.8" x2="87.8" y2="272.8" stroke="#ff0000" stroke-width="1" stroke-dasharray="1,1.5"/>
<path d="M76.2 269.3L78.8 272.8L76.2 276.3L73.6 272.8Z" fill="#ff0000"/>
</svg></body></html>
